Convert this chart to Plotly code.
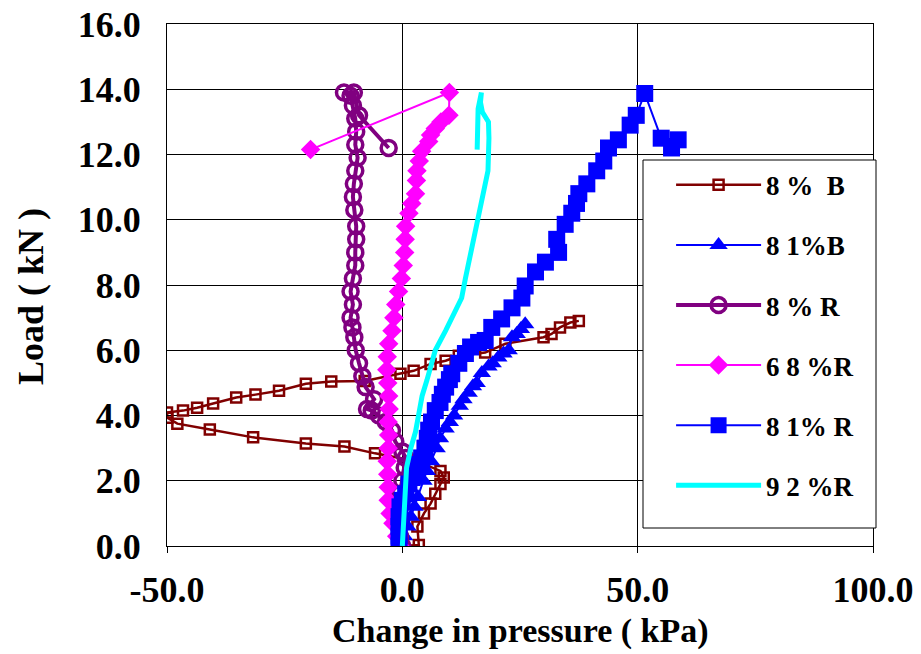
import plotly.graph_objects as go

# ---- data (Change in pressure kPa, Load kN) ----
b8_x = [0, 3.5, 3.2, 4.6, 6.0, 7.0, 8.1, 8.8, 8.1, 3.0, -5.8, -12.3, -20.5, -31.7, -40.9, -47.8, -49.9,
        -50.0, -46.6, -43.6, -40.2, -35.3, -31.2, -26.2, -20.5, -15.1, -8.0, -0.4, 2.4, 6.0, 9.2, 12.0,
        17.6, 21.9, 30.0, 31.7, 33.5, 35.7, 37.5]
b8_y = [0, 0.03, 0.6, 1.0, 1.3, 1.6, 1.9, 2.1, 2.3, 2.6, 2.84, 3.05, 3.14, 3.33, 3.57, 3.75, 3.93,
        4.09, 4.15, 4.24, 4.37, 4.55, 4.64, 4.76, 4.97, 5.04, 5.06, 5.28, 5.37, 5.58, 5.68, 5.83,
        5.93, 6.2, 6.4, 6.5, 6.7, 6.85, 6.9]

b81_x = [0, 0.4, 1.1, 1.8, 2.6, 3.3, 4.5, 5.2, 6.1, 7.3, 8.0, 9.2, 10.1, 11.0, 12.2, 13.0, 14.1,
         15.0, 15.8, 16.9, 18.3, 19.2, 20.4, 21.5, 22.6, 23.3, 24.3, 25.2, 26.1]
b81_y = [0, 0.3, 0.6, 0.9, 1.2, 1.5, 2.0, 2.3, 2.6, 3.0, 3.3, 3.6, 3.8, 4.0, 4.3, 4.5, 4.7,
         4.9, 5.0, 5.3, 5.5, 5.6, 5.78, 5.9, 6.0, 6.4, 6.5, 6.65, 6.8]

r8_x = [0, -0.5, -0.8, -1.0, -0.5, 0.0, 0.5, 0.7, 0.0, -1.5, -2.2, -3.5, -5.0, -6.5, -7.5, -6.0,
        -7.8, -8.5, -9.2, -9.9, -10.2, -10.6, -11.0, -10.5, -11.0, -10.5, -10.0, -10.0, -9.8, -9.8,
        -10.2, -10.5, -10.3, -10.0, -9.5, -10.0, -9.8, -10.0, -10.5, -11.0, -12.4, -10.3, -9.2, -2.9]
r8_y = [0, 0.3, 0.8, 1.2, 1.6, 2.0, 2.4, 2.7, 2.9, 3.2, 3.54, 3.8, 4.0, 4.15, 4.2, 4.5,
        4.87, 5.2, 5.6, 6.0, 6.4, 6.7, 7.0, 7.4, 7.8, 8.2, 8.6, 9.0, 9.4, 9.8,
        10.3, 10.7, 11.1, 11.5, 11.9, 12.3, 12.7, 13.1, 13.5, 13.8, 13.9, 13.9, 13.2, 12.2]

r68_x = [-0.5, -1.2, -2.0, -2.6, -3.0, -3.0, -3.1, -3.2, -3.0, -2.9, -3.0, -2.8, -2.9, -3.1, -3.3,
         -3.2, -2.9, -2.2, -1.8, -1.4, -0.8, -0.2, 0.2, 0.5, 0.6, 0.7, 1.4, 2.0, 2.8, 3.0, 3.1, 3.6,
         4.1, 5.6, 6.0, 7.0, 8.2, 9.9, 10.0, -19.5]
r68_y = [0, 0.3, 0.7, 1.0, 1.4, 1.8, 2.2, 2.6, 3.0, 3.4, 3.8, 4.2, 4.6, 5.0, 5.4,
         5.8, 6.2, 6.6, 7.0, 7.4, 7.8, 8.2, 8.6, 9.0, 9.4, 9.8, 10.2, 10.5, 10.8, 11.2, 11.5, 11.8,
         12.1, 12.4, 12.6, 12.8, 13.0, 13.2, 13.9, 12.15]

r81_x = [-0.7, -0.7, -0.7, -0.7, -0.5, 0.0, 0.7, 1.4, 2.1, 2.8, 3.5, 4.1, 4.8, 5.3, 5.6, 6.2, 7.0,
         8.0, 8.5, 9.2, 10.0, 10.5, 12.0, 13.4, 14.5, 16.2, 17.6, 19.0, 21.1, 23.3, 25.4, 26.1, 28.3,
         30.4, 33.2, 32.8, 34.6, 36.0, 37.0, 37.5, 39.2, 41.3, 42.8, 43.8, 45.9, 48.4, 49.7, 51.5,
         55.0, 58.6, 57.2]
r81_y = [0, 0.3, 0.6, 0.9, 1.2, 1.4, 1.6, 1.9, 2.1, 2.3, 2.5, 2.7, 3.0, 3.3, 3.55, 3.8, 4.15,
         4.4, 4.65, 4.87, 5.1, 5.28, 5.6, 5.9, 6.1, 6.24, 6.3, 6.7, 6.96, 7.3, 7.6, 7.97, 8.4,
         8.7, 9.0, 9.4, 9.86, 10.2, 10.5, 10.8, 11.1, 11.5, 11.8, 12.2, 12.45, 12.9, 13.2, 13.87,
         12.5, 12.45, 12.2]

r92_x = [0, 0.3, 0.6, 0.9, 1.8, 2.8, 3.5, 4.2, 5.2, 6.0, 7.0, 9.2, 10.5, 12.6, 13.4, 14.5, 15.2,
         16.2, 16.6, 17.3, 18.2, 18.4, 18.3, 17.0, 16.6, 16.8, 16.1, 15.9]
r92_y = [0, 0.8, 1.6, 2.4, 3.0, 3.5, 4.05, 4.6, 5.07, 5.5, 6.0, 6.6, 7.0, 7.6, 8.2, 9.0, 9.45,
         10.2, 10.5, 11.0, 11.5, 12.5, 13.0, 13.3, 13.6, 13.9, 13.4, 12.15]

names = ["8 %  B", "8 1%B", "8 % R", "6 8 %R", "8 1% R", "9 2 %R"]

x_ticks = [-50, 0, 50, 100]
x_ticktext = ["-50.0", "0.0", "50.0", "100.0"]

FONT = "Liberation Serif"

fig = go.Figure()
fig.add_trace(go.Scatter(x=b8_x, y=b8_y, name=names[0], mode="lines+markers", legendgroup="a",
                         line=dict(color="#800000", width=2.5),
                         marker=dict(symbol="square-open", size=10, color="#800000",
                                     line=dict(color="#800000", width=2.5))))
fig.add_trace(go.Scatter(x=b81_x, y=b81_y, name=names[1], mode="lines+markers", legendgroup="b",
                         line=dict(color="#0000FF", width=2),
                         marker=dict(symbol="triangle-up", size=16, color="#0000FF")))
fig.add_trace(go.Scatter(x=r8_x, y=r8_y, name=names[2], mode="lines+markers", legendgroup="c",
                         line=dict(color="#800080", width=4),
                         marker=dict(symbol="circle-open", size=15, color="#800080",
                                     line=dict(color="#800080", width=3.5))))
fig.add_trace(go.Scatter(x=r68_x, y=r68_y, name=names[3], mode="lines+markers", legendgroup="d",
                         line=dict(color="#FF00FF", width=2),
                         marker=dict(symbol="diamond", size=15, color="#FF00FF")))
fig.add_trace(go.Scatter(x=r81_x, y=r81_y, name=names[4], mode="lines+markers", legendgroup="e",
                         line=dict(color="#0000FF", width=2),
                         marker=dict(symbol="square", size=17, color="#0000FF")))
fig.add_trace(go.Scatter(x=r92_x, y=r92_y, name=names[5], mode="lines", legendgroup="f",
                         line=dict(color="#00FFFF", width=5)))

L, R, T, B = 167, 48, 24, 108
fig.update_layout(
    width=921, height=654,
    margin=dict(l=L, r=R, t=T, b=B, autoexpand=False),
    paper_bgcolor="white", plot_bgcolor="white",
    font=dict(family=FONT, color="black"),
    showlegend=True,
    legend=dict(x=0.714, y=0.738, xanchor="left", yanchor="top",
                bgcolor="rgba(0,0,0,0)", borderwidth=0,
                font=dict(family=FONT, size=27, weight="bold", color="black"),
                itemwidth=85, tracegroupgap=22, itemclick=False),
    xaxis=dict(range=[-50, 100], tickvals=x_ticks, ticktext=x_ticktext,
               showgrid=True, gridcolor="black", gridwidth=1, automargin=False,
               showline=True, linecolor="black", linewidth=1, mirror=True,
               ticks="outside", ticklen=6, tickcolor="black",
               tickfont=dict(family=FONT, size=36, weight="bold"),
               ticklabelstandoff=6, zeroline=False),
    yaxis=dict(range=[0, 16], dtick=2, tickformat=".1f",
               showgrid=True, gridcolor="black", gridwidth=1, automargin=False,
               showline=True, linecolor="black", linewidth=1, mirror=True,
               ticks="inside", ticklen=4, tickcolor="black",
               tickfont=dict(family=FONT, size=36, weight="bold"),
               ticklabelstandoff=18, zeroline=False),
    shapes=[dict(type="rect", xref="paper", yref="paper",
                 x0=(643 - L) / 706, x1=(876 - L) / 706,
                 y0=(546 - 528) / 522, y1=(546 - 160) / 522,
                 line=dict(color="black", width=1), fillcolor="white", layer="above")],
    annotations=[
        dict(text="Change in pressure ( kPa)", xref="paper", yref="paper",
             x=0.5, y=(546 - 631) / 522, xanchor="center", yanchor="middle", showarrow=False,
             font=dict(family=FONT, size=34, weight="bold", color="black")),
        dict(text="Load ( kN )", xref="paper", yref="paper", textangle=-90,
             x=(31 - L) / 706, y=(546 - 297) / 522, xanchor="center", yanchor="middle",
             showarrow=False,
             font=dict(family=FONT, size=36, weight="bold", color="black")),
    ],
)

fig.write_html("out.html")
